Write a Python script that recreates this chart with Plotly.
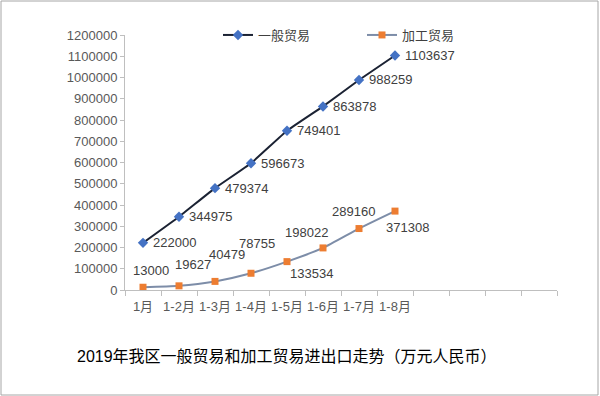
import plotly.graph_objects as go

months = ["1月", "1-2月", "1-3月", "1-4月", "1-5月", "1-6月", "1-7月", "1-8月"]
blank_cats = [" ", "  ", "   ", "    "]
general = [222000, 344975, 479374, 596673, 749401, 863878, 988259, 1103637]
processing = [13000, 19627, 40479, 78755, 133534, 198022, 289160, 371308]
y_ticks = list(range(0, 1200001, 100000))

# label offsets (style): pixels
proc_dx = [8, 14, 12, 6, 24, -17, -6, 12]
proc_dy = [17, 21, 27, 30, -12, 15, 17, -16]

FONT = "Liberation Sans, Noto Sans CJK SC, sans-serif"
L, R, T, B = 125, 43, 35, 106
W, H = 600, 396
pw, ph = W - L - R, H - T - B

fig = go.Figure()
fig.add_trace(go.Scatter(
    x=months, y=general, name="一般贸易", mode="lines+markers",
    line=dict(color="#1B2233", width=2, shape="spline", smoothing=0.3),
    marker=dict(symbol="diamond", size=8, color="#4472C4"),
))
fig.add_trace(go.Scatter(
    x=months, y=processing, name="加工贸易", mode="lines+markers",
    line=dict(color="#7D8DA8", width=2, shape="spline", smoothing=0.6),
    marker=dict(symbol="square", size=7, color="#ED7D31"),
))

anns = []
for m, v in zip(months, general):
    anns.append(dict(x=m, y=v, xref="x", yref="y", text=str(v), showarrow=False,
                     xanchor="left", yanchor="middle", xshift=8,
                     font=dict(family=FONT, size=13, color="#404040")))
for m, v, dx, dy in zip(months, processing, proc_dx, proc_dy):
    anns.append(dict(x=m, y=v, xref="x", yref="y", text=str(v), showarrow=False,
                     xanchor="center", yanchor="middle", xshift=dx, yshift=dy,
                     font=dict(family=FONT, size=13, color="#404040")))
anns.append(dict(x=(287 - L) / pw, y=(T + ph - 356) / ph, xref="paper", yref="paper",
                 text="2019年我区一般贸易和加工贸易进出口走势（万元人民币）",
                 showarrow=False, xanchor="center", yanchor="middle",
                 font=dict(family=FONT, size=16, color="#000000")))

fig.update_layout(
    width=W, height=H, margin=dict(l=L, r=R, t=T, b=B, autoexpand=False),
    paper_bgcolor="white", plot_bgcolor="white",
    font=dict(family=FONT, size=13, color="#595959"),
    showlegend=True,
    legend=dict(orientation="h", x=(218 - L) / pw, xanchor="left", y=1, yanchor="middle",
                entrywidth=99, font=dict(family=FONT, size=13, color="#404040"),
                bgcolor="rgba(0,0,0,0)"),
    annotations=anns,
    shapes=[dict(type="rect", xref="paper", yref="paper",
                 x0=(1 - L) / pw, x1=(598 - L) / pw,
                 y0=(T + ph - 395) / ph, y1=(T + ph - 1) / ph,
                 line=dict(color="#A6A6A6", width=1), fillcolor="rgba(0,0,0,0)", layer="below")],
    xaxis=dict(type="category", categoryorder="array", categoryarray=months + blank_cats,
               range=[-0.5, len(months) + len(blank_cats) - 0.5],
               showline=True, linecolor="#BFBFBF", linewidth=1,
               ticks="outside", tickson="boundaries", ticklen=5, tickcolor="#BFBFBF",
               ticklabelstandoff=4,
               showgrid=False, zeroline=False, fixedrange=True, tickangle=0, automargin=False,
               tickfont=dict(family=FONT, size=13, color="#595959")),
    yaxis=dict(range=[0, 1200000], tickvals=y_ticks, ticktext=[str(t) for t in y_ticks],
               showline=True, linecolor="#BFBFBF", linewidth=1,
               ticks="outside", ticklen=4, tickcolor="#BFBFBF", automargin=False,
               showgrid=False, zeroline=False, fixedrange=True,
               tickfont=dict(family=FONT, size=13, color="#595959")),
)

fig.write_html("out.html", config={"displayModeBar": False},
               post_script="document.body.style.margin='0';document.body.style.overflow='hidden';")
